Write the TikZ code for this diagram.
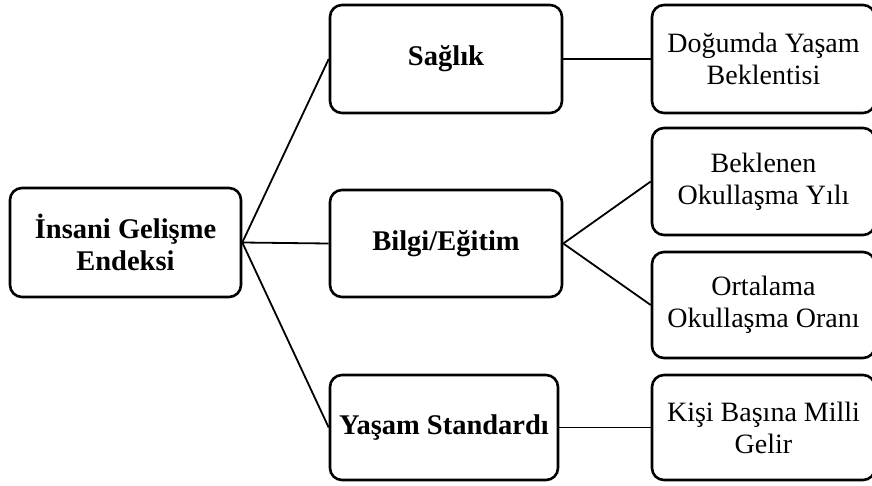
\documentclass[tikz,border=0pt]{standalone}
\usepackage{fontspec}
\setmainfont{Liberation Serif}
\begin{document}
\begin{tikzpicture}[x=1pt,y=-1pt,
  box/.style={draw=black,line width=2.6pt,rounded corners=12pt,fill=white,
    align=center,inner sep=0pt,font=\fontsize{28}{32}\selectfont},
  boldbox/.style={box,font=\fontsize{28.5}{32}\selectfont\bfseries},
  link/.style={draw=black,line width=1.8pt}]
\useasboundingbox (0,0) rectangle (872,485);
\node[boldbox,minimum width=231pt,minimum height=109pt] (root) at (125.5,242.5) {İnsani Gelişme\\Endeksi};
\node[boldbox,minimum width=232pt,minimum height=108pt] (sag) at (446,59) {Sağlık};
\node[boldbox,minimum width=232pt,minimum height=107pt] (bil) at (446,243.5) {Bilgi/Eğitim};
\node[boldbox,minimum width=228pt,minimum height=105pt] (yas) at (444,427.5) {Yaşam Standardı};
\node[box,minimum width=223pt,minimum height=108pt] (dog) at (763.5,59) {Doğumda Yaşam\\Beklentisi};
\node[box,minimum width=223pt,minimum height=107pt] (bek) at (763.5,181.5) {Beklenen\\Okullaşma Yılı};
\node[box,minimum width=223pt,minimum height=106pt] (ort) at (763.5,305) {Ortalama\\Okullaşma Oranı};
\node[box,minimum width=223pt,minimum height=105pt] (kis) at (763.5,427.5) {Kişi Başına Milli\\Gelir};
\draw[link] (root.east) -- (sag.west);
\draw[link] (root.east) -- (bil.west);
\draw[link] (root.east) -- (yas.west);
\draw[link] (sag.east) -- (dog.west);
\draw[link] (bil.east) -- (bek.west);
\draw[link] (bil.east) -- (ort.west);
\draw[link] (yas.east) -- (kis.west);
\end{tikzpicture}
\end{document}
